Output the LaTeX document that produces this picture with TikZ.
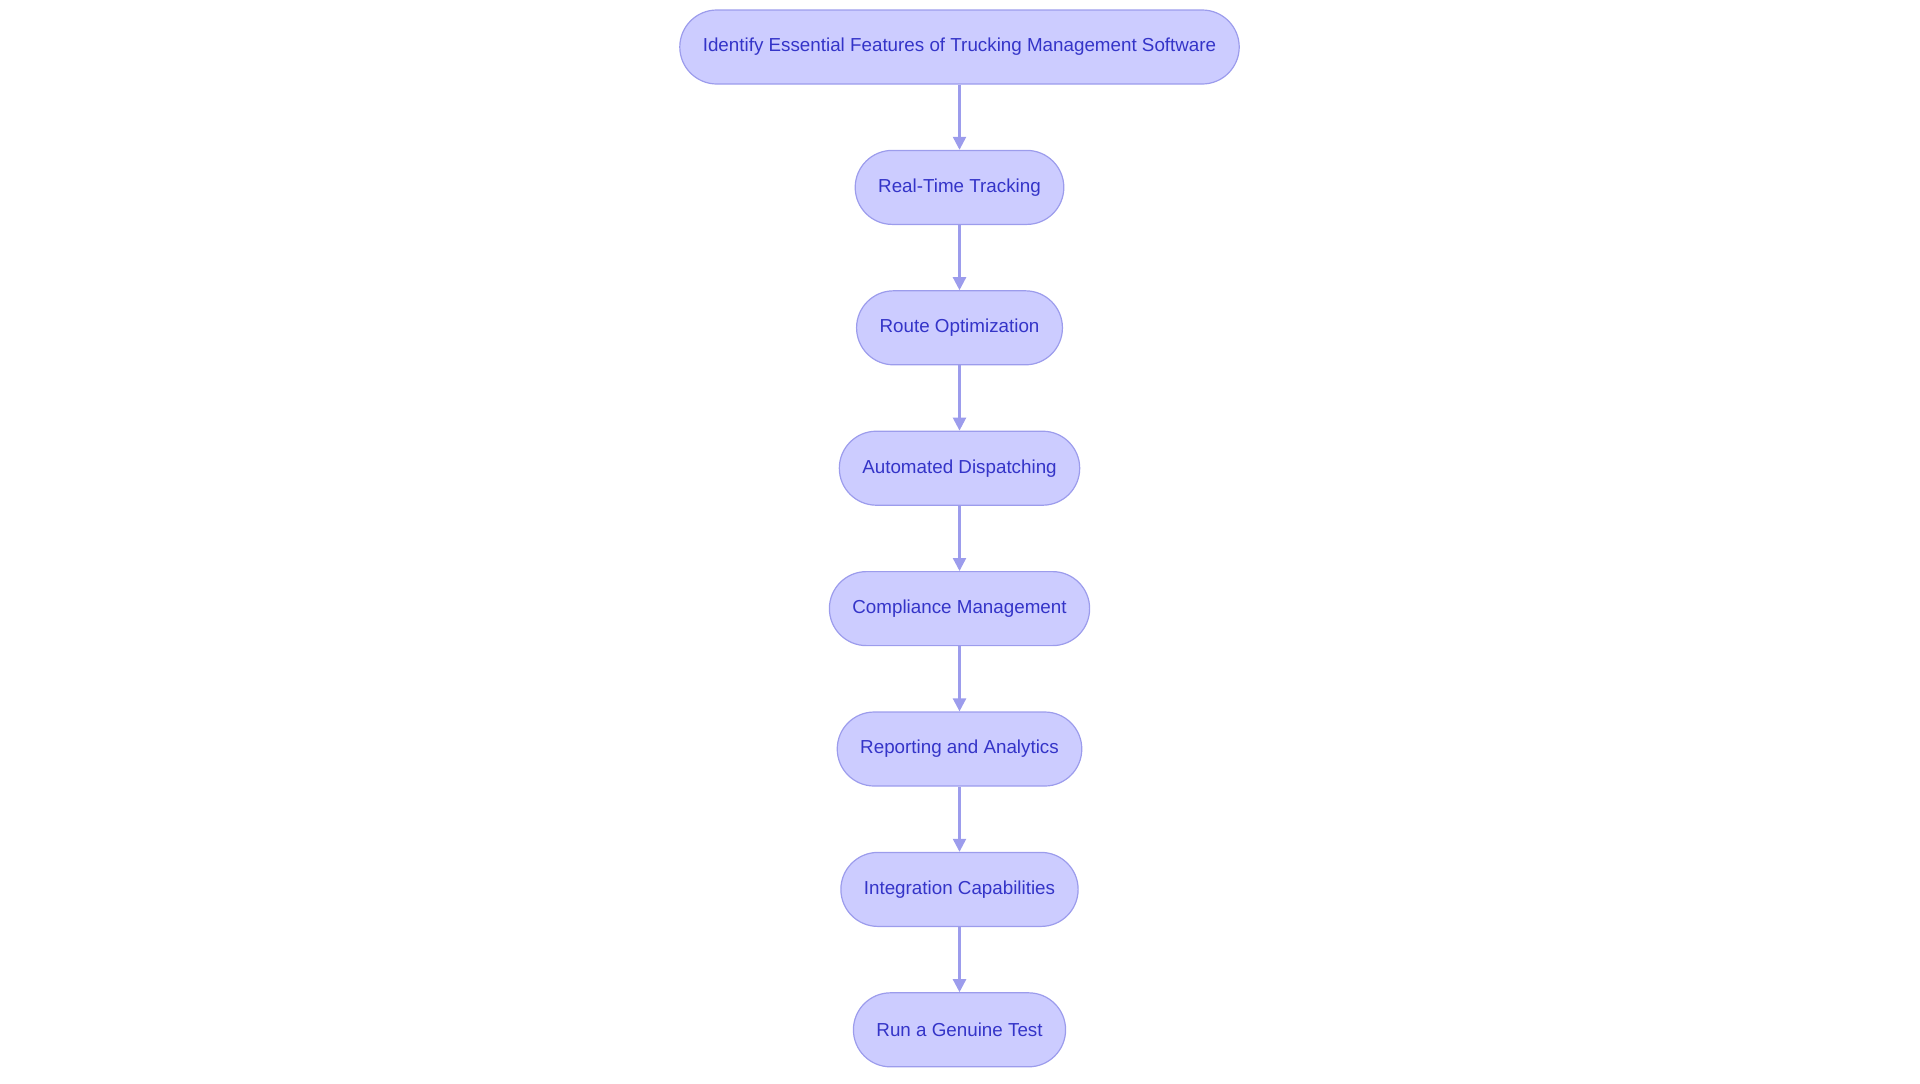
\documentclass[tikz,border=0pt]{standalone}
\usepackage{fontspec}
\setmainfont{Liberation Sans}
\usetikzlibrary{positioning,arrows.meta}
\definecolor{stepfill}{HTML}{CCCCFF}
\definecolor{stepline}{HTML}{9C9CEC}
\definecolor{steptext}{HTML}{3434C8}
\definecolor{flowline}{HTML}{9C9CEC}
\begin{document}
\begin{tikzpicture}[x=1pt,y=1pt,node distance=32.6pt,
  stepbox/.style={draw=stepline,fill=stepfill,text=steptext,line width=0.6pt,
    rounded corners=18.5pt,minimum height=37pt,inner xsep=11.5pt,
    font=\fontsize{9.4pt}{11pt}\selectfont},
  flow/.style={->,draw=flowline,line width=1.2pt,>={Triangle[length=6.5pt,width=6.5pt]}}]
  \useasboundingbox (0,0) rectangle (960,-541.5);
  % steps
  \node[stepbox] (identify) at (479.75,-23.5) {Identify Essential Features of Trucking Management Software};
  \node[stepbox,below=of identify] (tracking) {Real-Time Tracking};
  \node[stepbox,below=of tracking] (route) {Route Optimization};
  \node[stepbox,below=of route] (dispatch) {Automated Dispatching};
  \node[stepbox,below=of dispatch] (compliance) {Compliance Management};
  \node[stepbox,below=of compliance] (reporting) {Reporting and Analytics};
  \node[stepbox,below=of reporting] (integration) {Integration Capabilities};
  \node[stepbox,below=of integration] (test) {Run a Genuine Test};
  % links
  \foreach \a/\b in {identify/tracking,tracking/route,route/dispatch,dispatch/compliance,
    compliance/reporting,reporting/integration,integration/test}
    \draw[flow] (\a) -- (\b);
\end{tikzpicture}
\end{document}
